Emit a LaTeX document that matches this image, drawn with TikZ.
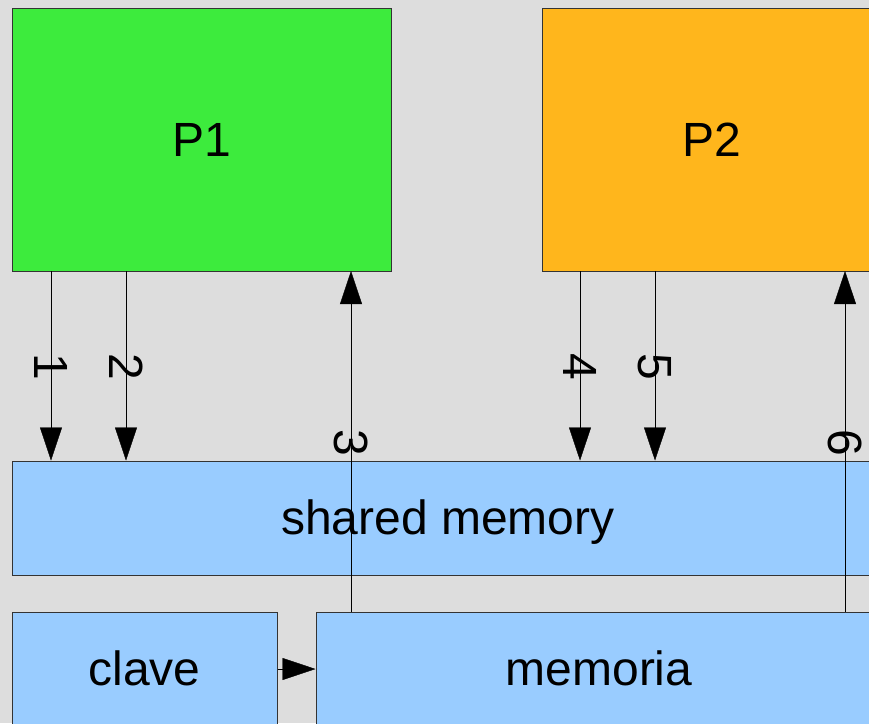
\documentclass[tikz,border=0pt]{standalone}
\usepackage{fontspec}
\setmainfont{Liberation Sans}
\usetikzlibrary{arrows.meta}
\definecolor{bggray}{HTML}{DDDDDD}
\definecolor{pgreen}{HTML}{3DEB3D}
\definecolor{porange}{HTML}{FFB61C}
\definecolor{memblue}{HTML}{99CCFF}
\begin{document}
\begin{tikzpicture}[x=1pt, y=-1pt, >={Triangle[length=33pt,width=22pt]},
    box/.style={draw=black!80, line width=1pt, inner sep=0pt, text height=43.4pt, text depth=10.2pt,
      font=\fontsize{48}{52}\selectfont},
    lbl/.style={rotate=-90, inner sep=0pt, font=\fontsize{48}{52}\selectfont}]
\fill[bggray] (0,0) rectangle (869,723);
\useasboundingbox (0,0) rectangle (869,723);
\clip (0,0) rectangle (869,723);

\node[box, fill=pgreen, minimum width=379pt, minimum height=263pt] (P1) at (201.5,139.5) {P1};
\node[box, fill=porange, minimum width=340pt, minimum height=263pt] (P2) at (712,139.5) {P2};
\node[box, fill=memblue, minimum width=872pt, minimum height=114pt] (shm) at (448,518) {shared memory};
\node[box, fill=memblue, minimum width=265pt, minimum height=114pt] (clave) at (144.5,669) {clave};
\node[box, fill=memblue, minimum width=566pt, minimum height=114pt] (memoria) at (599,669) {memoria};

\coordinate (a1) at (51,271);
\coordinate (a2) at (126,271);
\coordinate (a3) at (351,271);
\coordinate (a4) at (580,271);
\coordinate (a5) at (655,271);
\coordinate (a6) at (845,271);

\draw[->] (a1) -- (a1 |- shm.north);
\draw[->] (a2) -- (a2 |- shm.north);
\draw[->] (a3 |- memoria.north) -- (a3);
\draw[->] (a4) -- (a4 |- shm.north);
\draw[->] (a5) -- (a5 |- shm.north);
\draw[->] (a6 |- memoria.north) -- (a6);
\draw[->] (clave.east) -- (memoria.west);

\node[lbl] (l1) at (51,367) {1};
\node[lbl] (l2) at (126,367) {2};
\node[lbl] (l3) at (351,443) {3};
\node[lbl] (l4) at (580,367) {4};
\node[lbl] (l5) at (655,367) {5};
\node[lbl] (l6) at (845,443) {6};
\end{tikzpicture}
\end{document}
